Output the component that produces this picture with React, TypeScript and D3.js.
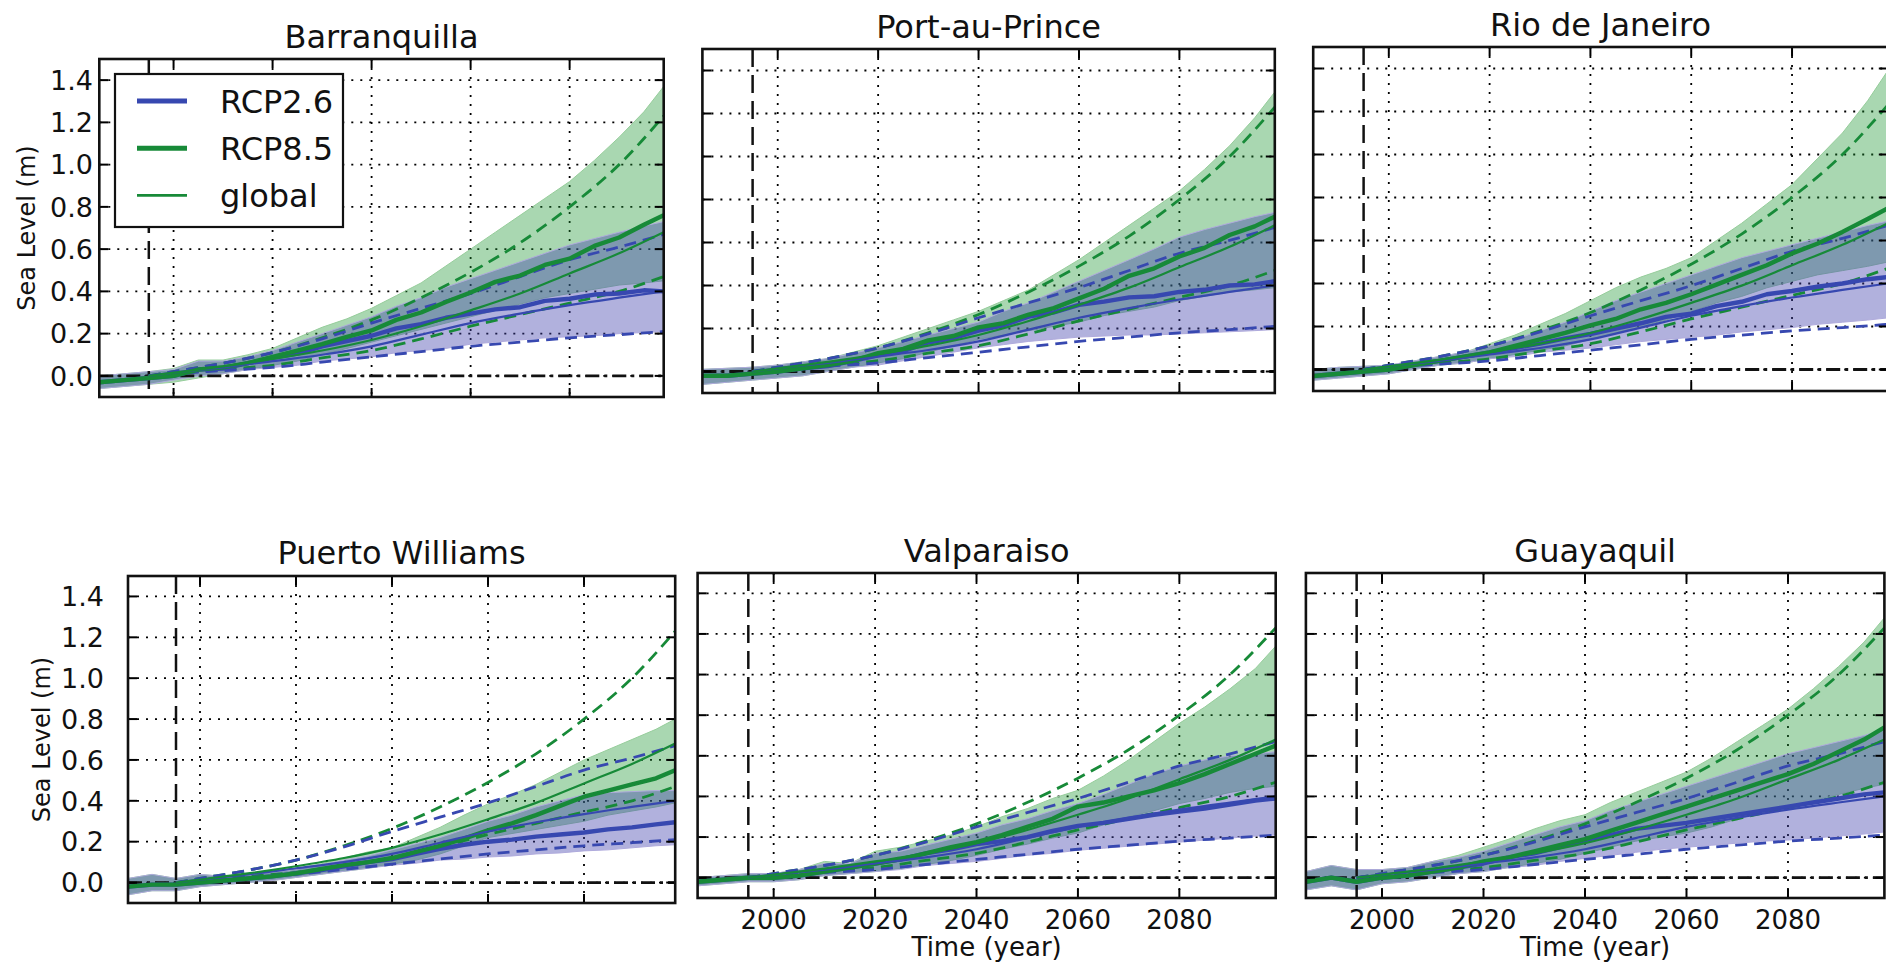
import * as React from "react";
import * as d3 from "d3";

const cities = ["Barranquilla", "Port-au-Prince", "Rio de Janeiro", "Puerto Williams", "Valparaiso", "Guayaquil"];

const years = [1985, 1990, 1995, 2000, 2005, 2010, 2015, 2020, 2025, 2030, 2035, 2040, 2045, 2050, 2055, 2060, 2065, 2070, 2075, 2080, 2085, 2090, 2095, 2099];

// local projections (m), one row per city in the order of `cities`
const rcp26Low = [
  [-0.06, -0.05, -0.04, -0.02, 0.0, 0.01, 0.03, 0.04, 0.05, 0.07, 0.08, 0.09, 0.11, 0.12, 0.13, 0.15, 0.16, 0.17, 0.18, 0.185, 0.19, 0.2, 0.205, 0.21],
  [-0.06, -0.05, -0.04, -0.03, -0.02, 0.0, 0.02, 0.03, 0.05, 0.07, 0.09, 0.11, 0.125, 0.14, 0.15, 0.16, 0.165, 0.17, 0.17, 0.175, 0.18, 0.185, 0.19, 0.195],
  [-0.05, -0.04, -0.03, -0.02, 0.0, 0.02, 0.03, 0.05, 0.06, 0.08, 0.09, 0.1, 0.115, 0.13, 0.14, 0.15, 0.16, 0.175, 0.185, 0.195, 0.21, 0.22, 0.23, 0.24],
  [-0.06, -0.04, -0.04, -0.02, -0.01, 0.0, 0.01, 0.025, 0.04, 0.055, 0.07, 0.085, 0.095, 0.11, 0.115, 0.125, 0.13, 0.14, 0.145, 0.155, 0.16, 0.17, 0.18, 0.185],
  [-0.04, -0.03, -0.02, -0.02, -0.01, 0.01, 0.02, 0.03, 0.04, 0.06, 0.07, 0.08, 0.095, 0.11, 0.12, 0.135, 0.145, 0.155, 0.165, 0.175, 0.185, 0.195, 0.205, 0.21],
  [-0.06, -0.04, -0.06, -0.03, -0.02, 0.0, 0.02, 0.03, 0.05, 0.06, 0.08, 0.095, 0.11, 0.125, 0.14, 0.15, 0.16, 0.17, 0.18, 0.185, 0.195, 0.205, 0.215, 0.225],
];
const rcp26Median = [
  [-0.03, -0.02, -0.01, 0.0, 0.03, 0.035, 0.06, 0.085, 0.105, 0.14, 0.165, 0.19, 0.225, 0.245, 0.275, 0.295, 0.315, 0.325, 0.355, 0.365, 0.385, 0.39, 0.405, 0.4],
  [-0.02, -0.02, -0.01, 0.0, 0.015, 0.025, 0.05, 0.075, 0.095, 0.135, 0.155, 0.19, 0.215, 0.255, 0.275, 0.31, 0.325, 0.345, 0.35, 0.37, 0.38, 0.4, 0.405, 0.42],
  [-0.03, -0.02, -0.01, 0.0, 0.02, 0.04, 0.06, 0.08, 0.1, 0.12, 0.145, 0.165, 0.19, 0.215, 0.245, 0.26, 0.295, 0.315, 0.35, 0.365, 0.385, 0.4, 0.42, 0.43],
  [-0.02, -0.01, -0.01, 0.0, 0.01, 0.02, 0.03, 0.045, 0.06, 0.08, 0.1, 0.115, 0.14, 0.165, 0.185, 0.2, 0.21, 0.225, 0.235, 0.245, 0.26, 0.27, 0.285, 0.295],
  [-0.02, -0.01, 0.0, 0.0, 0.01, 0.03, 0.05, 0.07, 0.09, 0.12, 0.14, 0.165, 0.18, 0.2, 0.23, 0.255, 0.27, 0.29, 0.31, 0.325, 0.34, 0.36, 0.38, 0.39],
  [-0.02, 0.0, -0.02, 0.0, 0.01, 0.03, 0.05, 0.07, 0.1, 0.12, 0.15, 0.185, 0.21, 0.24, 0.255, 0.27, 0.29, 0.31, 0.33, 0.35, 0.37, 0.39, 0.41, 0.42],
];
const rcp26High = [
  [0.0, 0.01, 0.02, 0.03, 0.07, 0.07, 0.09, 0.12, 0.16, 0.2, 0.24, 0.28, 0.33, 0.37, 0.42, 0.46, 0.5, 0.54, 0.58, 0.62, 0.65, 0.68, 0.71, 0.73],
  [0.01, 0.015, 0.02, 0.03, 0.045, 0.06, 0.085, 0.11, 0.14, 0.17, 0.2, 0.23, 0.28, 0.32, 0.37, 0.42, 0.47, 0.52, 0.57, 0.625, 0.66, 0.69, 0.72, 0.74],
  [0.0, 0.01, 0.015, 0.02, 0.04, 0.06, 0.08, 0.11, 0.14, 0.18, 0.22, 0.27, 0.32, 0.36, 0.4, 0.44, 0.48, 0.52, 0.55, 0.58, 0.61, 0.64, 0.67, 0.69],
  [0.02, 0.04, 0.02, 0.04, 0.03, 0.04, 0.05, 0.065, 0.085, 0.11, 0.13, 0.16, 0.19, 0.22, 0.26, 0.3, 0.33, 0.37, 0.4, 0.43, 0.44, 0.445, 0.45, 0.45],
  [0.0, 0.01, 0.02, 0.02, 0.04, 0.07, 0.07, 0.12, 0.13, 0.16, 0.19, 0.22, 0.26, 0.29, 0.33, 0.365, 0.41, 0.46, 0.51, 0.55, 0.58, 0.6, 0.61, 0.62],
  [0.03, 0.06, 0.04, 0.04, 0.05, 0.08, 0.1, 0.13, 0.17, 0.21, 0.25, 0.28, 0.33, 0.37, 0.41, 0.45, 0.49, 0.53, 0.57, 0.61, 0.64, 0.67, 0.7, 0.73],
];
const rcp85Low = [
  [-0.06, -0.05, -0.04, -0.03, -0.01, 0.01, 0.03, 0.05, 0.07, 0.1, 0.13, 0.16, 0.19, 0.22, 0.25, 0.28, 0.31, 0.34, 0.37, 0.39, 0.41, 0.43, 0.44, 0.45],
  [-0.06, -0.05, -0.04, -0.03, -0.02, 0.0, 0.02, 0.04, 0.06, 0.09, 0.12, 0.15, 0.17, 0.19, 0.21, 0.23, 0.26, 0.28, 0.3, 0.33, 0.35, 0.37, 0.38, 0.39],
  [-0.05, -0.04, -0.03, -0.02, 0.0, 0.02, 0.03, 0.05, 0.07, 0.09, 0.11, 0.14, 0.17, 0.2, 0.23, 0.27, 0.31, 0.34, 0.38, 0.41, 0.44, 0.46, 0.48, 0.5],
  [-0.06, -0.04, -0.04, -0.02, -0.01, 0.0, 0.01, 0.025, 0.04, 0.055, 0.07, 0.09, 0.11, 0.14, 0.18, 0.22, 0.24, 0.26, 0.28, 0.3, 0.33, 0.35, 0.37, 0.39],
  [-0.04, -0.03, -0.02, -0.02, -0.01, 0.01, 0.02, 0.03, 0.045, 0.065, 0.085, 0.11, 0.14, 0.165, 0.195, 0.22, 0.26, 0.3, 0.33, 0.365, 0.39, 0.42, 0.44, 0.45],
  [-0.06, -0.04, -0.06, -0.03, -0.02, 0.0, 0.02, 0.03, 0.05, 0.07, 0.09, 0.12, 0.15, 0.18, 0.2, 0.22, 0.25, 0.29, 0.32, 0.35, 0.38, 0.41, 0.44, 0.46],
];
const rcp85Median = [
  [-0.03, -0.02, -0.01, 0.0, 0.03, 0.04, 0.06, 0.09, 0.12, 0.15, 0.185, 0.215, 0.265, 0.3, 0.35, 0.395, 0.445, 0.475, 0.525, 0.555, 0.615, 0.655, 0.715, 0.76],
  [-0.02, -0.02, -0.01, 0.0, 0.015, 0.03, 0.05, 0.085, 0.105, 0.145, 0.165, 0.205, 0.225, 0.265, 0.295, 0.34, 0.385, 0.445, 0.48, 0.535, 0.575, 0.635, 0.675, 0.72],
  [-0.03, -0.02, -0.01, 0.0, 0.02, 0.04, 0.06, 0.08, 0.11, 0.14, 0.17, 0.205, 0.235, 0.28, 0.31, 0.35, 0.395, 0.44, 0.485, 0.54, 0.585, 0.64, 0.7, 0.75],
  [-0.02, -0.01, -0.01, 0.0, 0.01, 0.02, 0.03, 0.045, 0.065, 0.085, 0.1, 0.12, 0.15, 0.18, 0.215, 0.255, 0.29, 0.33, 0.375, 0.42, 0.45, 0.48, 0.51, 0.55],
  [-0.02, -0.01, 0.0, 0.0, 0.01, 0.03, 0.05, 0.07, 0.09, 0.12, 0.15, 0.175, 0.21, 0.25, 0.29, 0.35, 0.37, 0.4, 0.43, 0.465, 0.51, 0.56, 0.61, 0.65],
  [-0.02, 0.0, -0.02, 0.0, 0.01, 0.03, 0.05, 0.08, 0.1, 0.13, 0.16, 0.19, 0.23, 0.27, 0.31, 0.35, 0.39, 0.43, 0.47, 0.51, 0.56, 0.62, 0.68, 0.74],
];
const rcp85High = [
  [0.0, 0.01, 0.02, 0.035, 0.075, 0.075, 0.1, 0.13, 0.18, 0.23, 0.27, 0.32, 0.38, 0.44, 0.52, 0.6, 0.68, 0.76, 0.84, 0.92, 1.02, 1.13, 1.25, 1.37],
  [0.01, 0.015, 0.02, 0.03, 0.045, 0.06, 0.09, 0.12, 0.16, 0.2, 0.24, 0.28, 0.33, 0.38, 0.45, 0.52, 0.6, 0.68, 0.76, 0.84, 0.94, 1.05, 1.18, 1.3],
  [0.0, 0.01, 0.015, 0.02, 0.04, 0.06, 0.08, 0.12, 0.16, 0.21, 0.26, 0.32, 0.38, 0.43, 0.47, 0.52, 0.6, 0.68, 0.77, 0.86, 0.98, 1.1, 1.25, 1.39],
  [0.02, 0.04, 0.02, 0.04, 0.03, 0.04, 0.05, 0.07, 0.09, 0.12, 0.15, 0.17, 0.22, 0.27, 0.33, 0.385, 0.43, 0.48, 0.54, 0.6, 0.65, 0.7, 0.75, 0.8],
  [0.0, 0.01, 0.02, 0.02, 0.04, 0.08, 0.07, 0.13, 0.15, 0.18, 0.21, 0.25, 0.3, 0.34, 0.39, 0.43, 0.5, 0.58, 0.67, 0.76, 0.84, 0.93, 1.03, 1.14],
  [0.03, 0.06, 0.04, 0.04, 0.05, 0.08, 0.11, 0.15, 0.19, 0.24, 0.28, 0.31, 0.37, 0.42, 0.47, 0.52, 0.59, 0.67, 0.75, 0.83, 0.93, 1.04, 1.16, 1.28],
];

// global-mean projections, same in every panel
const globalYears = [1995, 2000, 2010, 2020, 2030, 2040, 2050, 2060, 2070, 2080, 2090, 2099];
const global26Low = [0, 0.01, 0.025, 0.04, 0.065, 0.09, 0.115, 0.14, 0.16, 0.18, 0.195, 0.21];
const global26Median = [0, 0.015, 0.04, 0.07, 0.1, 0.14, 0.195, 0.25, 0.295, 0.335, 0.37, 0.4];
const global26High = [0, 0.02, 0.06, 0.11, 0.175, 0.25, 0.32, 0.39, 0.47, 0.55, 0.61, 0.67];
const global85Low = [0, 0.01, 0.03, 0.05, 0.085, 0.12, 0.175, 0.235, 0.29, 0.345, 0.4, 0.47];
const global85Median = [0, 0.015, 0.045, 0.08, 0.12, 0.17, 0.235, 0.31, 0.39, 0.485, 0.58, 0.68];
const global85High = [0, 0.02, 0.06, 0.11, 0.18, 0.265, 0.37, 0.49, 0.63, 0.8, 1.0, 1.23];

const yTicks = [0, 0.2, 0.4, 0.6, 0.8, 1.0, 1.2, 1.4];
const xTicks = [2000, 2020, 2040, 2060, 2080];
const refYear = 1995;
const legendLabels = ["RCP2.6", "RCP8.5", "global"];

const BLUE = "#3748b0";
const GREEN = "#178a38";
const FONT = "DejaVu Sans";

// where each panel sits in the figure
const panels = [
  { x0: 99.3, x1: 663.7, y0: 59, y1: 397, titleY: 48, yLabelRight: 93, yTitleX: 26, xLabels: false },
  { x0: 702.4, x1: 1274.8, y0: 49, y1: 393, titleY: 38, yLabelRight: 0, yTitleX: 0, xLabels: false },
  { x0: 1313.2, x1: 1887.8, y0: 47, y1: 391, titleY: 36, yLabelRight: 0, yTitleX: 0, xLabels: false },
  { x0: 128, x1: 675.2, y0: 576, y1: 903, titleY: 564, yLabelRight: 104, yTitleX: 41, xLabels: false },
  { x0: 697.6, x1: 1275.7, y0: 573, y1: 898, titleY: 562, yLabelRight: 0, yTitleX: 0, xLabels: true },
  { x0: 1305.9, x1: 1884.4, y0: 573, y1: 898, titleY: 562, yLabelRight: 0, yTitleX: 0, xLabels: true },
];

const Panel = ({ idx }: { idx: number }) => {
  const p = panels[idx];
  const x = d3.scaleLinear().domain([1985, 2099]).range([p.x0, p.x1]);
  const y = d3.scaleLinear().domain([-0.1, 1.5]).range([p.y1, p.y0]);

  const local = years.map((yr, i) => ({
    yr,
    lo26: rcp26Low[idx][i], mid26: rcp26Median[idx][i], hi26: rcp26High[idx][i],
    lo85: rcp85Low[idx][i], mid85: rcp85Median[idx][i], hi85: rcp85High[idx][i],
  }));
  const glob = globalYears.map((yr, i) => ({
    yr,
    lo26: global26Low[i], mid26: global26Median[i], hi26: global26High[i],
    lo85: global85Low[i], mid85: global85Median[i], hi85: global85High[i],
  }));

  const band = (lo: string, hi: string) =>
    d3.area<any>().x(d => x(d.yr)).y0(d => y(d[lo])).y1(d => y(d[hi]))(local) || "";
  const localLine = (key: string) => d3.line<any>().x(d => x(d.yr)).y(d => y(d[key]))(local) || "";
  const globLine = (key: string) =>
    d3.line<any>().x(d => x(d.yr)).y(d => y(d[key])).curve(d3.curveMonotoneX)(glob) || "";

  const clipId = "clip-" + idx;
  const cx = (p.x0 + p.x1) / 2;

  return (
    <g>
      <defs>
        <clipPath id={clipId}>
          <rect x={p.x0} y={p.y0} width={p.x1 - p.x0} height={p.y1 - p.y0} />
        </clipPath>
      </defs>
      <text x={cx} y={p.titleY} textAnchor="middle" fontSize={32} fontFamily={FONT} fill="#111">
        {cities[idx]}
      </text>

      {/* grid */}
      {yTicks.map(t => (
        <line key={"gy" + t} x1={p.x0} x2={p.x1} y1={y(t)} y2={y(t)} stroke="#000" strokeWidth={1.8} strokeDasharray="2 7" />
      ))}
      {xTicks.map(t => (
        <line key={"gx" + t} x1={x(t)} x2={x(t)} y1={p.y0} y2={p.y1} stroke="#000" strokeWidth={1.8} strokeDasharray="2 7" />
      ))}

      <g clipPath={`url(#${clipId})`}>
        <path d={band("lo85", "hi85")} fill="rgb(30,150,50)" fillOpacity={0.38} stroke="rgb(150,205,155)" strokeWidth={1} />
        <path d={band("lo26", "hi26")} fill="rgb(65,65,172)" fillOpacity={0.41} stroke="rgb(175,170,220)" strokeWidth={1} />

        <line x1={p.x0} x2={p.x1} y1={y(0)} y2={y(0)} stroke="#111" strokeWidth={2.8} strokeDasharray="14 5 3 5" />
        <line x1={x(refYear)} x2={x(refYear)} y1={p.y0} y2={p.y1} stroke="#111" strokeWidth={2.5} strokeDasharray="18 8" />

        <path d={globLine("hi85")} fill="none" stroke={GREEN} strokeWidth={2.8} strokeDasharray="12 7" />
        <path d={globLine("lo85")} fill="none" stroke={GREEN} strokeWidth={2.8} strokeDasharray="12 7" />
        <path d={globLine("hi26")} fill="none" stroke={BLUE} strokeWidth={2.8} strokeDasharray="12 7" />
        <path d={globLine("lo26")} fill="none" stroke={BLUE} strokeWidth={2.8} strokeDasharray="12 7" />

        <path d={localLine("mid26")} fill="none" stroke={BLUE} strokeWidth={4.4} strokeLinejoin="round" />
        <path d={localLine("mid85")} fill="none" stroke={GREEN} strokeWidth={4.4} strokeLinejoin="round" />

        <path d={globLine("mid26")} fill="none" stroke={BLUE} strokeWidth={2.2} />
        <path d={globLine("mid85")} fill="none" stroke={GREEN} strokeWidth={2.2} />
      </g>

      {/* inward ticks on all sides */}
      {yTicks.map(t => (
        <g key={"ty" + t}>
          <line x1={p.x0} x2={p.x0 + 9} y1={y(t)} y2={y(t)} stroke="#000" strokeWidth={2} />
          <line x1={p.x1 - 9} x2={p.x1} y1={y(t)} y2={y(t)} stroke="#000" strokeWidth={2} />
        </g>
      ))}
      {xTicks.map(t => (
        <g key={"tx" + t}>
          <line x1={x(t)} x2={x(t)} y1={p.y1} y2={p.y1 - 9} stroke="#000" strokeWidth={2} />
          <line x1={x(t)} x2={x(t)} y1={p.y0} y2={p.y0 + 9} stroke="#000" strokeWidth={2} />
        </g>
      ))}
      <rect x={p.x0} y={p.y0} width={p.x1 - p.x0} height={p.y1 - p.y0} fill="none" stroke="#111" strokeWidth={2.6} />

      {p.yLabelRight > 0 && (
        <g fontFamily={FONT} fill="#111">
          {yTicks.map(t => (
            <text key={"ly" + t} x={p.yLabelRight} y={y(t)} dy="0.36em" textAnchor="end" fontSize={27}>
              {d3.format(".1f")(t)}
            </text>
          ))}
          <text
            transform={`translate(${p.yTitleX},${(p.y0 + p.y1) / 2}) rotate(-90)`}
            textAnchor="middle"
            dy="0.36em"
            fontSize={24}
          >
            Sea Level (m)
          </text>
        </g>
      )}

      {p.xLabels && (
        <g fontFamily={FONT} fill="#111">
          {xTicks.map(t => (
            <text key={"lx" + t} x={x(t)} y={929} textAnchor="middle" fontSize={26}>
              {t}
            </text>
          ))}
          <text x={cx} y={956} textAnchor="middle" fontSize={26}>
            Time (year)
          </text>
        </g>
      )}
    </g>
  );
};

const Legend = () => {
  const box = { x: 115, y: 74, w: 228, h: 153 };
  const rows = [
    { color: BLUE, width: 5 },
    { color: GREEN, width: 5 },
    { color: GREEN, width: 2.6 },
  ];
  return (
    <g>
      <rect x={box.x} y={box.y} width={box.w} height={box.h} fill="#fff" stroke="#111" strokeWidth={2.2} />
      {legendLabels.map((lab, i) => {
        const cy = box.y + 27 + i * 47.2;
        return (
          <g key={lab}>
            <line x1={137} x2={187} y1={cy} y2={cy} stroke={rows[i].color} strokeWidth={rows[i].width} />
            <text x={220} y={cy} dy="0.36em" fontSize={32} fontFamily={FONT} fill="#111">
              {lab}
            </text>
          </g>
        );
      })}
    </g>
  );
};

export default function App() {
  return (
    <svg width={1886} height={963} style={{ position: "absolute", left: 0, top: 0, background: "#fff" }}>
      <rect width={1886} height={963} fill="#fff" />
      {panels.map((_, i) => (
        <Panel key={cities[i]} idx={i} />
      ))}
      <Legend />
    </svg>
  );
}
